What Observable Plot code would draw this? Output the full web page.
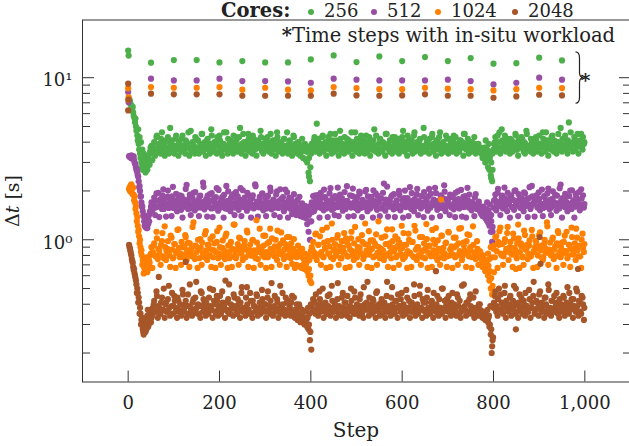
<!DOCTYPE html>
<html><head><meta charset="utf-8">
<script src="https://cdn.jsdelivr.net/npm/d3@7"></script>
<script src="https://cdn.jsdelivr.net/npm/@observablehq/plot@0.6"></script>
<style>
html,body{margin:0;padding:0;background:#fff;}
#wrap{position:relative;width:629px;height:446px;font-family:"DejaVu Serif",serif;color:#222;overflow:hidden;}
#legend{position:absolute;left:0;top:1px;width:629px;height:20px;font-size:18px;white-space:nowrap;line-height:20px;z-index:2;}
#legend span{position:absolute;top:0;}
#legend b{position:absolute;top:0;font-size:19.5px;}
#legend .dot{width:6px;height:6px;border-radius:50%;top:7.5px;}
</style></head><body><div id="wrap"><div id="legend"></div></div>
<script>
// ---- data ----
const coreLabels = ["256", "512", "1024", "2048"];
const coreColors = ["#4daf4a", "#984ea3", "#ff7f00", "#a65628"];
const xTicks = [0, 200, 400, 600, 800, 1000];
const yMajorTicks = [1, 10];
const yMajorLabels = ["10\u2070", "10\u00b9"];
const yMinorTicks = [0.2, 0.3, 0.4, 0.5, 0.6, 0.7, 0.8, 0.9, 2, 3, 4, 5, 6, 7, 8, 9];

// step indices of the two interleaved sample sets (every 3rd step)
const stepsA = d3.range(2, 1000, 3);
const stepsB = d3.range(3, 1000, 3);

const dt256A = [
7.4,6.9,6.5,6.1,5.6,5.0,4.4,3.9,3.4,3.0,2.7,3.1,2.6,2.9,3.2,2.9,3.4,
3.1,3.6,3.3,4.3,3.5,3.9,3.4,4.6,3.6,3.3,4.1,3.7,3.4,4.9,3.5,3.8,3.4,4.2,3.6,3.3,
3.9,3.5,4.4,3.6,3.4,4.0,3.7,3.3,4.7,3.5,3.8,3.4,4.2,3.6,3.4,3.9,4.5,3.5,3.7,3.3,
4.1,3.6,3.4,4.8,3.7,3.5,4.0,3.4,3.8,4.4,3.5,3.3,3.9,3.6,4.6,3.4,3.7,4.1,3.5,3.4,
3.8,4.3,3.5,3.6,4.9,3.4,3.7,4.0,3.3,3.6,4.5,3.5,3.8,3.4,4.2,3.6,3.3,4.0,3.7,4.7,
3.5,3.4,3.9,3.6,4.3,3.5,3.8,3.4,4.1,3.7,3.3,4.6,3.5,3.9,3.6,3.4,4.2,3.5,3.8,3.4,
4.0,3.6,3.3,4.4,3.5,3.7,3.4,3.9,3.3,3.5,3.2,3.6,3.1,3.0,2.6,2.3,3.4,3.6,4.1,3.5,
5.2,3.6,3.4,3.9,4.3,3.5,3.7,3.3,4.0,3.6,4.5,3.4,3.8,3.5,4.1,3.6,3.3,4.7,3.5,3.9,
3.4,3.7,4.2,3.5,3.6,4.0,3.3,3.8,4.6,3.5,3.7,3.4,4.1,3.6,3.9,3.4,4.4,3.5,3.7,3.3,
4.0,3.6,4.8,3.5,3.8,3.4,4.2,3.6,3.5,3.9,3.3,4.5,3.7,3.5,4.1,3.4,3.6,4.3,3.5,3.8,
3.4,4.0,3.6,4.7,3.5,3.7,3.3,4.2,3.6,3.9,3.4,4.4,3.5,3.8,3.6,4.1,3.4,3.7,4.9,3.5,
3.6,4.0,3.4,3.8,4.3,3.5,3.7,3.3,4.1,3.6,4.6,3.4,3.9,3.5,3.7,4.2,3.4,3.6,4.0,3.5,
4.4,3.6,3.4,3.9,3.5,4.1,3.7,3.3,4.5,3.6,3.8,3.4,4.0,3.5,3.7,4.3,3.4,3.6,3.9,3.5,
3.4,3.2,3.3,3.0,3.1,2.8,2.7,2.5,2.3,3.6,4.0,3.5,4.4,3.7,3.4,4.8,3.6,3.9,3.5,4.2,
3.6,3.4,4.1,3.5,3.8,4.5,3.6,3.3,3.9,3.7,4.2,3.5,3.4,4.7,3.6,3.8,3.5,4.0,3.4,3.7,
4.3,3.5,3.6,3.9,3.4,4.6,3.7,3.5,4.1,3.3,3.8,3.6,4.4,3.5,3.7,3.4,4.0,3.6,4.9,3.5,
3.8,4.2,3.6,3.4,5.3,3.7,3.9,3.5,4.3,3.6,4.0,3.4,3.8,4.5,3.6,3.9];
const dt256B = [
7.0,6.8,6.3,5.8,5.3,4.7,4.1,3.6,3.2,2.8,3.2,2.9,3.3,2.7,3.0,3.5,3.8,
3.7,4.0,3.5,4.4,3.8,3.6,4.2,3.9,3.5,4.0,3.7,4.3,3.6,3.9,4.1,3.5,3.8,4.4,3.7,4.0,
3.6,4.2,3.8,3.5,4.1,3.9,4.6,3.7,3.5,4.0,3.8,4.3,3.6,4.1,3.7,3.9,4.5,3.6,4.0,3.8,
4.2,3.7,3.9,4.4,3.6,4.0,3.8,4.3,3.5,4.1,3.7,3.9,4.6,3.8,3.6,4.2,3.9,3.7,4.0,4.4,
3.6,4.1,3.8,4.3,3.7,3.9,4.5,3.6,4.0,3.8,4.2,3.7,3.9,4.4,3.6,4.0,3.8,4.1,3.7,4.3,
3.9,3.6,4.2,3.8,4.0,3.7,4.5,3.9,3.6,4.1,3.8,4.3,3.7,4.0,3.9,3.6,4.2,3.8,4.6,3.7,
4.1,3.8,3.6,4.3,3.9,3.7,4.0,3.8,3.6,4.2,3.7,3.9,3.5,3.6,3.2,2.8,3.9,3.8,4.3,4.0,
3.7,4.2,3.9,3.6,4.4,3.8,4.0,3.7,4.3,3.9,3.6,4.1,3.8,4.5,3.7,4.0,3.9,4.2,3.6,3.8,
4.3,3.7,3.9,4.1,3.8,4.6,3.6,4.0,3.8,4.2,3.7,3.9,4.4,3.6,4.1,3.8,4.0,3.7,4.3,3.9,
3.6,4.1,3.8,4.4,3.7,3.9,4.2,3.6,4.0,3.8,4.5,3.7,3.9,4.1,3.6,4.3,3.8,4.0,3.7,4.2,
3.9,3.7,4.3,3.8,4.0,3.6,4.4,3.9,3.7,4.1,3.8,4.6,3.6,4.0,3.9,4.2,3.7,3.8,4.3,3.6,
4.0,3.8,4.2,3.7,4.5,3.9,3.6,4.1,3.8,4.3,3.7,3.9,4.0,3.6,4.4,3.8,3.7,4.2,3.9,4.1,
3.7,4.3,3.9,3.6,4.1,3.8,4.0,4.5,3.7,3.9,4.2,3.6,3.8,4.0,3.7,3.9,3.6,3.8,3.5,3.7,
3.5,3.6,3.4,3.5,3.3,3.4,3.2,3.0,2.7,3.9,4.3,3.8,4.0,4.6,3.7,4.1,3.9,4.4,3.8,4.0,
3.8,4.2,3.7,4.0,3.9,4.4,3.6,4.1,3.8,4.3,3.7,4.0,3.9,4.5,3.7,3.8,4.2,3.6,4.0,3.9,
4.1,3.8,4.4,3.7,3.9,4.2,3.8,4.6,3.7,4.0,3.9,4.3,3.6,4.1,3.8,4.0,4.5,3.7,3.9,4.2,
3.8,4.4,3.9,4.1,3.7,4.6,3.9,4.0,4.2,3.8,4.5,3.9,4.1,3.7,4.3,4.0];

const dt512A = [
3.28,3.22,3.30,3.20,3.0,2.8,2.6,2.3,2.0,1.7,1.5,1.3,1.2,1.35,1.25,1.45,1.6,
1.52,1.71,1.42,1.93,1.60,1.38,1.78,1.55,2.05,1.62,1.39,1.84,1.57,1.68,1.40,2.12,1.59,1.75,1.50,1.66,
1.88,1.53,1.37,1.72,1.61,2.18,1.55,1.80,1.42,1.64,1.95,1.52,1.70,1.58,1.40,1.87,1.63,2.25,1.54,1.74,
1.39,1.67,1.91,1.56,1.38,1.79,1.62,2.08,1.51,1.69,1.58,1.83,1.37,1.65,2.15,1.55,1.73,1.50,1.86,1.60,
1.42,1.97,1.64,1.53,1.76,1.40,2.02,1.59,1.70,1.51,1.89,1.63,1.37,1.81,1.56,2.20,1.66,1.39,1.74,1.58,
1.92,1.52,1.68,1.40,1.85,1.61,2.10,1.54,1.72,1.42,1.65,1.99,1.57,1.38,1.78,1.60,1.50,2.04,1.63,1.37,
1.82,1.55,1.44,1.69,1.50,1.42,1.76,1.45,1.40,1.58,1.38,1.43,1.36,1.25,1.12,1.00,1.30,1.62,1.50,1.88,
1.58,1.74,1.37,1.95,1.61,1.52,1.83,1.56,1.38,1.70,2.08,1.53,1.66,1.42,1.79,1.59,1.40,1.90,1.63,1.51,
1.73,1.55,2.14,1.39,1.67,1.58,1.86,1.40,1.62,1.77,1.52,1.98,1.57,1.38,1.71,1.60,2.03,1.50,1.68,1.56,
1.84,1.37,1.64,1.93,1.53,1.72,1.40,1.80,1.58,2.22,1.51,1.66,1.39,1.75,1.61,1.88,1.54,1.38,1.70,1.57,
2.00,1.52,1.63,1.37,1.81,1.59,1.69,1.40,2.11,1.55,1.74,1.50,1.62,1.90,1.42,1.67,1.56,1.85,1.38,1.61,
1.76,1.51,2.06,1.58,1.37,1.72,1.64,1.94,1.53,1.68,1.40,1.82,1.57,2.17,1.50,1.65,1.79,1.42,1.60,1.87,
1.54,1.38,1.73,1.99,1.56,1.66,1.39,1.84,1.61,1.37,2.09,1.58,1.71,1.52,1.64,1.40,1.91,1.55,1.69,1.50,
1.44,1.40,1.47,1.36,1.32,1.28,1.22,1.12,0.97,1.58,1.76,1.52,1.95,1.61,1.42,1.83,1.56,2.10,1.66,1.50,
1.72,1.37,1.88,1.59,1.53,2.02,1.64,1.40,1.78,1.57,1.69,1.50,1.93,1.62,1.38,1.81,1.55,2.15,1.67,1.39,
1.75,1.58,1.96,1.52,1.65,1.40,1.86,1.60,1.71,2.07,1.54,1.42,1.79,1.63,1.90,1.51,1.68,1.56,2.19,1.37,
1.73,1.59,1.84,1.50,1.66,2.01,1.55,1.70,1.37,1.92,1.61,1.77,1.52,2.05,1.64,1.58];
const dt512B = [
3.25,3.3,3.18,3.27,2.95,2.7,2.5,2.1,1.85,1.6,1.4,1.22,1.3,1.18,1.4,1.5,1.7,
1.65,1.82,1.58,1.74,1.95,1.62,1.70,1.88,1.55,1.79,1.67,2.01,1.60,1.76,1.85,1.57,1.72,1.92,1.63,1.80,
1.69,1.86,1.59,1.77,2.06,1.64,1.73,1.90,1.56,1.81,1.68,1.97,1.61,1.75,1.84,1.58,1.71,2.12,1.66,1.78,
1.87,1.60,1.74,1.94,1.57,1.70,1.83,1.65,2.03,1.59,1.78,1.68,1.89,1.56,1.73,1.99,1.62,1.80,1.67,1.91,
1.58,1.76,1.85,1.63,2.08,1.71,1.60,1.82,1.69,1.95,1.57,1.75,1.66,1.88,1.61,2.14,1.72,1.59,1.84,1.68,
1.93,1.62,1.79,1.56,1.87,1.70,2.00,1.64,1.77,1.58,1.90,1.67,1.73,2.05,1.60,1.83,1.69,1.57,1.96,1.74,
1.66,1.80,1.58,1.91,1.63,1.72,1.55,1.84,1.60,1.68,1.52,1.62,1.48,1.55,1.42,1.30,1.70,1.86,1.65,1.78,
1.61,1.89,1.70,1.57,1.82,2.04,1.66,1.75,1.59,1.93,1.68,1.79,1.56,1.86,1.64,2.10,1.72,1.60,1.81,1.69,
1.97,1.58,1.74,1.65,1.88,1.61,2.07,1.71,1.57,1.83,1.67,1.92,1.63,1.76,1.59,1.99,1.70,1.85,1.62,1.78,
1.64,2.02,1.73,1.58,1.87,1.69,1.80,1.56,1.95,1.66,1.77,2.13,1.60,1.72,1.84,1.59,1.91,1.68,1.75,1.62,
1.89,1.57,1.76,1.66,2.01,1.63,1.81,1.70,1.58,1.94,1.67,1.78,1.61,2.06,1.73,1.60,1.86,1.69,1.97,1.64,
1.71,1.85,1.59,1.92,1.68,1.77,2.09,1.62,1.74,1.57,1.88,1.65,1.80,1.98,1.60,1.73,1.66,1.90,1.58,1.83,
1.69,1.95,1.61,1.78,1.64,2.03,1.72,1.59,1.86,1.67,1.75,1.90,1.62,1.70,1.57,1.82,1.65,1.58,1.72,1.60,
1.55,1.60,1.50,1.52,1.45,1.47,1.38,1.30,1.12,1.74,1.90,1.66,2.06,1.72,1.61,1.87,1.69,1.80,1.63,1.95,
1.67,1.84,1.59,1.76,2.00,1.64,1.73,1.91,1.58,1.81,1.70,1.96,1.62,1.78,1.66,2.11,1.60,1.85,1.69,1.75,
1.88,1.61,1.79,1.68,2.04,1.57,1.83,1.72,1.93,1.63,1.76,1.59,1.99,1.70,1.65,1.87,1.62,2.08,1.74,1.81,
1.64,1.92,1.71,1.58,1.86,1.67,2.02,1.75,1.60,1.83,1.69,1.97,1.63,1.79,1.88,1.66];

const dt1024A = [
2.05,2.15,1.95,2.10,1.85,1.62,1.38,1.15,1.0,.86,.75,.68,.64,.78,.66,.72,.82,
.67,.92,.80,1.12,.76,.86,.70,.98,.79,1.21,.75,.88,.82,.68,1.03,.77,.94,.67,.85,1.16,
.78,.70,.90,.81,1.07,.75,.96,.68,.84,.79,1.28,.76,.91,.67,.87,1.01,.70,.82,.78,1.13,
.75,.93,.80,.68,1.05,.86,.67,.97,.77,1.19,.70,.89,.81,.76,1.09,.67,.84,.95,.68,.79,
1.24,.77,.88,.70,1.02,.83,.75,.92,.78,1.14,.68,.86,.80,.99,.67,.82,1.32,.76,.90,.70,
.85,1.06,.78,.67,.95,.81,1.17,.68,.87,.79,1.00,.75,.91,.70,1.11,.83,.76,.94,.68,.80,
1.04,.77,.71,.88,.67,.70,.84,.69,.68,.67,.70,.66,.70,.64,.60,.56,.54,.86,.79,1.08,
.75,.93,.81,.70,1.15,.78,.89,.67,.98,.82,.68,1.26,.76,.87,.80,1.03,.70,.91,.77,.84,
1.10,.67,.96,.79,.68,1.02,.85,.75,1.20,.78,.90,.70,.83,1.07,.76,.94,.81,.68,1.13,.86,
.67,.99,.79,.92,.70,1.30,.77,.88,.82,.75,1.05,.80,.68,.95,.84,1.16,.67,.89,.78,1.01,
.70,.87,1.22,.76,.93,.81,.67,1.09,.83,.68,.97,.78,1.14,.75,.90,.80,.70,1.04,.86,.77,
1.25,.67,.91,.82,.68,1.00,.79,1.18,.75,.88,.70,1.06,.84,.77,.95,.68,1.12,.80,.87,.67,
1.03,.78,.92,.70,1.17,.81,.75,.96,.86,.68,1.08,.79,.90,.67,1.21,.83,.76,.98,.70,.85,
.71,.68,.70,.64,.66,.60,.56,.50,.46,.88,.78,1.05,.67,.93,1.19,.80,.70,.97,.84,1.10,
.75,.90,.82,.68,1.02,.86,.77,1.24,.67,.95,.79,.70,1.07,.88,.76,.92,.81,1.15,.67,.84,
.98,.68,.89,1.11,.78,.75,.94,.83,1.28,.70,.87,.80,1.01,.76,.91,.67,1.13,.82,.78,.96,
.70,1.06,.85,.77,.93,.68,1.19,.81,.88,.75,1.03,.79,.92,.67,1.09,.84];
const dt1024B = [
2.1,1.98,2.08,1.9,1.7,1.45,1.22,1.05,0.9,0.8,0.7,0.66,0.74,0.63,0.7,0.8,0.9,
.84,.95,.79,1.02,.88,.81,.93,1.10,.77,.90,.85,.98,.80,1.06,.87,.78,.94,.83,1.15,.89,
.82,.97,.78,.91,1.04,.86,.80,.95,.88,1.20,.79,.92,.84,1.00,.77,.89,.96,.81,1.08,.86,
.93,.80,1.01,.87,.78,.95,.84,1.13,.82,.90,.79,.99,.86,1.05,.81,.92,.77,.97,.88,1.24,
.85,.79,.94,1.03,.83,.90,.78,.98,.87,1.11,.81,.93,.80,1.00,.86,.77,.96,.84,1.17,.89,
.80,.92,1.06,.84,.78,.97,.88,1.02,.82,.91,.79,1.14,.85,.94,.81,.99,.87,.78,1.04,.90,
.86,.95,.80,1.01,.83,.78,.92,.85,.79,.88,.76,.82,.72,.74,.66,.60,.90,.97,.83,1.09,
.81,.93,1.05,.84,.79,.96,.88,1.19,.82,.91,.78,1.00,.86,.94,.80,1.07,.85,.77,.98,.89,
.83,1.02,.79,.92,.87,1.12,.80,.95,.84,.78,1.01,.89,.82,.97,.79,1.26,.86,.93,.81,.99,
.88,.78,.95,1.08,.83,.90,.80,1.03,.86,.79,.94,1.16,.82,.91,.77,.98,.85,1.05,.80,.92,
.96,.81,.89,1.10,.78,.93,.85,1.00,.82,.97,.79,1.22,.87,.90,.80,1.04,.84,.78,.95,.88,
1.01,.83,.92,.79,1.15,.86,.94,.80,.99,.85,.78,1.06,.89,.82,.96,.79,1.11,.87,.91,.81,
.90,1.03,.80,.95,.85,1.18,.79,.92,.84,.98,.81,1.07,.86,.78,.93,.83,.80,.88,.78,.84,
.76,.80,.73,.75,.70,.69,.64,.58,.52,.92,1.04,.85,.97,1.13,.82,.94,.79,1.01,.88,1.20,
.86,.97,.81,1.09,.89,.80,.95,1.02,.84,.91,.78,1.14,.87,.93,.82,.99,.79,1.05,.85,.90,
.94,.80,1.07,.86,.92,.78,1.00,.88,1.21,.83,.96,.81,1.03,.87,.79,.95,1.10,.84,.90,.82,
.97,.85,1.12,.80,.93,.88,1.04,.82,.95,1.17,.86,.91,.79,1.00,.89,.94];

const dt2048A = [
.93,.85,.76,.68,.62,.56,.50,.44,.38,.32,.28,.30,.27,.33,.29,.35,.31,
.34,.40,.36,.48,.33,.38,.35,.44,.37,.33,.41,.36,.52,.34,.39,.35,.45,.38,.33,.42,
.36,.34,.49,.37,.40,.33,.46,.35,.38,.34,.43,.37,.55,.35,.39,.33,.47,.36,.41,.34,
.38,.35,.50,.37,.33,.42,.36,.45,.34,.39,.35,.48,.37,.33,.41,.36,.53,.35,.38,.34,
.44,.37,.35,.40,.33,.47,.36,.38,.34,.51,.37,.35,.42,.33,.39,.36,.46,.34,.38,.35,
.49,.36,.40,.33,.44,.37,.35,.54,.34,.39,.36,.43,.33,.38,.35,.47,.37,.34,.41,.36,
.39,.34,.45,.35,.33,.37,.32,.40,.31,.34,.32,.30,.33,.29,.28,.24,.21,.36,.42,.35,
.37,.34,.48,.36,.40,.33,.38,.35,.45,.37,.34,.52,.36,.39,.33,.43,.35,.38,.34,.47,
.36,.41,.34,.38,.33,.50,.37,.35,.44,.36,.39,.34,.46,.35,.33,.40,.37,.55,.34,.38,
.35,.43,.36,.33,.48,.37,.34,.41,.35,.39,.33,.45,.36,.38,.34,.51,.37,.35,.42,.33,
.39,.36,.47,.34,.38,.35,.44,.37,.33,.40,.36,.53,.34,.38,.35,.46,.37,.33,.41,.36,
.34,.49,.37,.35,.42,.33,.39,.36,.45,.34,.38,.35,.50,.37,.33,.43,.36,.40,.34,.47,
.36,.38,.34,.44,.35,.33,.52,.37,.39,.34,.41,.36,.46,.35,.38,.33,.48,.37,.34,.40,
.35,.33,.36,.32,.34,.31,.29,.26,.22,.38,.45,.36,.34,.50,.37,.41,.35,.47,.33,.39,
.36,.44,.34,.38,.52,.35,.40,.33,.46,.37,.35,.42,.34,.39,.36,.49,.33,.38,.45,.35,
.37,.41,.34,.48,.36,.39,.33,.44,.35,.53,.37,.34,.42,.36,.38,.47,.35,.33,.40,.36,
.45,.34,.38,.51,.35,.37,.43,.33,.39,.36,.48,.34,.41,.35,.44,.32];
const dt2048B = [
.9,.82,.74,.65,.6,.53,.47,.41,.35,.3,.27,.32,.28,.34,.3,.37,.33,
.38,.42,.36,.45,.39,.35,.41,.37,.50,.40,.36,.43,.38,.35,.47,.39,.42,.36,.44,.37,
.40,.36,.46,.38,.42,.35,.39,.53,.37,.41,.36,.44,.38,.40,.35,.48,.39,.43,.37,.41,
.36,.44,.39,.37,.49,.40,.35,.42,.38,.45,.36,.41,.39,.56,.37,.43,.35,.40,.38,.46,
.39,.35,.43,.37,.41,.51,.38,.36,.44,.40,.37,.47,.35,.42,.39,.38,.45,.36,.41,.38,
.43,.37,.40,.36,.48,.39,.42,.35,.38,.45,.37,.41,.36,.52,.39,.40,.37,.44,.35,.42,
.38,.41,.36,.44,.37,.40,.35,.39,.34,.37,.33,.36,.32,.33,.30,.27,.39,.43,.37,.46,
.40,.36,.43,.38,.50,.37,.41,.35,.39,.46,.38,.42,.36,.40,.37,.54,.39,.35,.44,.38,
.41,.37,.45,.36,.39,.42,.38,.48,.35,.40,.37,.43,.39,.36,.51,.38,.41,.37,.44,.40,
.36,.42,.39,.47,.37,.40,.35,.43,.38,.41,.36,.55,.39,.37,.44,.40,.36,.42,.38,.46,
.39,.43,.37,.40,.35,.49,.38,.42,.36,.41,.39,.45,.37,.40,.36,.52,.38,.43,.37,.41,
.44,.38,.36,.41,.39,.47,.37,.40,.35,.43,.38,.50,.36,.42,.39,.37,.45,.38,.41,.36,
.40,.37,.46,.39,.42,.36,.38,.53,.37,.41,.35,.43,.39,.37,.44,.36,.38,.35,.40,.37,
.36,.35,.34,.35,.32,.33,.30,.28,.24,.41,.48,.39,.43,.37,.46,.40,.38,.52,.42,.37,
.40,.45,.37,.42,.39,.50,.36,.41,.38,.44,.37,.40,.47,.39,.36,.43,.38,.41,.55,.37,
.42,.38,.46,.39,.41,.36,.44,.40,.37,.49,.38,.42,.36,.45,.39,.41,.37,.43,.40,.38,
.44,.39,.41,.36,.47,.40,.38,.43,.37,.50,.39,.42,.36,.45,.40,.38];

// additional samples (start-up transient, dips and outliers)
const extraStep256 = [1,4,10,16,22,25,28,31,34,37,40,43,46,49,390,393,396,399,780,783,786,789,792,795,798];
const extraDt256 = [13.7,7.2,6.6,5.6,4.8,4.3,4.0,3.6,3.4,3.0,2.75,3.3,3.1,3.7,3.8,3.5,2.45,3.7,3.7,4.1,3.6,3.9,3.5,2.4,3.4];
const extraStep512 = [1,4,7,13,16,19,22,25,28,31,34,37,40,43,46,393,396,402,783,786,789,792,795,798];
const extraDt512 = [7.06,3.25,3.18,3.1,2.9,2.7,2.45,2.15,1.85,1.6,1.42,1.3,1.18,1.4,1.3,1.55,1.6,1.48,1.55,1.7,1.52,1.65,1.42,1.2];
const extraStep1024 = [0,1,4,7,10,13,16,19,22,25,28,31,34,37,40,43,46,394,397,400,685,785,788,791,794,797,801,849];
const extraDt1024 = [7.3,7.6,2.0,2.2,1.9,1.75,1.55,1.3,1.12,0.95,0.84,0.7,0.62,0.69,0.76,0.66,0.74,0.80,0.75,0.85,1.77,0.73,0.82,0.76,0.9,0.78,0.63,0.66];
const extraStep2048 = [0,1,4,7,10,13,16,19,22,25,28,31,34,37,40,43,46,67,126,394,397,400,674,787,790,793,796,799,849,901,903,985];
const extraDt2048 = [6.28,7.32,0.88,0.80,0.72,0.66,0.58,0.47,0.41,0.35,0.30,0.33,0.26,0.31,0.28,0.37,0.32,0.59,0.73,0.38,0.35,0.40,0.64,0.37,0.34,0.39,0.20,0.25,0.28,1.04,0.71,0.66];

// time steps with in-situ workload
const insituSteps = [0,50,100,150,200,250,300,350,400,450,500,550,600,650,700,750,800,850,900,950];
const insitu256 = [14.7,12.38,12.84,12.84,12.43,12.66,12.43,12.43,12.97,13.73,12.48,13.53,12.66,13.40,12.66,13.21,12.2,12.3,13.29,12.78];
const insitu512 = [8.15,9.86,9.62,9.62,9.86,9.53,9.53,9.49,9.31,9.86,9.72,9.62,9.62,9.62,9.72,9.53,9.09,9.31,10.0,9.72];
const insitu1024 = [8.6,8.75,8.67,8.67,8.75,8.43,8.67,8.43,8.35,8.75,8.63,8.50,8.50,8.67,8.55,8.50,8.35,8.50,8.67,8.63];
const insitu2048 = [9.18,7.97,7.89,7.89,7.89,7.74,7.74,7.74,7.74,7.97,7.77,7.74,7.77,7.89,7.74,7.74,7.52,7.66,7.85,7.77];

// ---- table ----
const seriesA = [dt256A, dt512A, dt1024A, dt2048A];
const seriesB = [dt256B, dt512B, dt1024B, dt2048B];
const extraSteps = [extraStep256, extraStep512, extraStep1024, extraStep2048];
const extraDts = [extraDt256, extraDt512, extraDt1024, extraDt2048];
const insitu = [insitu256, insitu512, insitu1024, insitu2048];
const points = [];
coreLabels.forEach((c, k) => {
  seriesA[k].forEach((v, i) => points.push({step: stepsA[i], dt: v, cores: c}));
  seriesB[k].forEach((v, i) => points.push({step: stepsB[i], dt: v, cores: c}));
  extraSteps[k].forEach((s, i) => points.push({step: s, dt: extraDts[k][i], cores: c}));
  insituSteps.forEach((s, i) => points.push({step: s, dt: insitu[k][i], cores: c}));
});

// ---- legend (HTML, above the plot) ----
const legend = d3.select("#legend");
const legendTextLeft = [324, 387, 451, 528];
legend.append("b").style("left", "221px").text("Cores:");
coreLabels.forEach((c, k) => {
  legend.append("span").attr("class", "dot").style("background", coreColors[k])
    .style("left", (legendTextLeft[k] - 16) + "px");
  legend.append("span").style("left", legendTextLeft[k] + "px").text(c);
});

// ---- plot ----
const axisColor = "#333";
const plot = Plot.plot({
  width: 629, height: 446,
  marginLeft: 82, marginRight: -1, marginTop: 19.5, marginBottom: 64.5,
  style: {fontFamily: '"DejaVu Serif", serif', fontSize: "18px", color: "#222", background: "transparent", overflow: "visible"},
  x: {domain: [-100, 1100], axis: null},
  y: {type: "log", domain: [0.1325, 22.7], axis: null},
  color: {domain: coreLabels, range: coreColors},
  marks: [
    Plot.dot(points, {x: "step", y: "dt", fill: "cores", r: 3.1}),
    Plot.frame({stroke: axisColor}),
    // inward ticks
    Plot.axisY({anchor: "left", ticks: yMajorTicks, tickSize: 12, insetLeft: 12, fill: "none", stroke: axisColor, label: null}),
    Plot.axisY({anchor: "left", ticks: yMinorTicks, tickSize: 8, insetLeft: 8, fill: "none", stroke: axisColor, label: null}),
    Plot.axisY({anchor: "right", ticks: yMajorTicks, tickSize: 12, insetRight: 12, fill: "none", stroke: axisColor, label: null}),
    Plot.axisY({anchor: "right", ticks: yMinorTicks, tickSize: 8, insetRight: 8, fill: "none", stroke: axisColor, label: null}),
    Plot.axisX({anchor: "bottom", ticks: xTicks, tickSize: 11, insetBottom: 11, fill: "none", stroke: axisColor, label: null}),
    // tick labels
    Plot.axisY({anchor: "left", ticks: yMajorTicks, tickSize: 0, tickPadding: 10, dy: 3,
      tickFormat: d => yMajorLabels[yMajorTicks.indexOf(d)], label: null}),
    Plot.axisX({anchor: "bottom", ticks: xTicks, tickSize: 0, tickPadding: 14, tickFormat: d3.format(","), label: null})
  ]
});

const svg = d3.select(plot);
const sx = plot.scale("x"), sy = plot.scale("y");
const font = '"DejaVu Serif", serif';

// axis titles
svg.append("text").attr("x", 356).attr("y", 437).attr("text-anchor", "middle")
  .attr("font-family", font).attr("font-size", 20).attr("fill", "#222").text("Step");
const yl = svg.append("text").attr("transform", "translate(19,201) rotate(-90)").attr("text-anchor", "middle")
  .attr("font-family", font).attr("font-size", 19).attr("fill", "#222");
yl.append("tspan").text("\u0394");
yl.append("tspan").attr("font-style", "italic").text("t");
yl.append("tspan").text(" [s]");

// annotation
const ann = svg.append("text").attr("x", 615).attr("y", 42).attr("text-anchor", "end")
  .attr("font-family", font).attr("font-size", 19.5).attr("fill", "#222");
ann.append("tspan").attr("font-weight", "bold").text("*");
ann.append("tspan").text("Time steps with in-situ workload");

// brace next to the in-situ samples
const later = (arr) => arr.filter((v, i) => insituSteps[i] > 0);
const yTop = sy.apply(d3.max(later(insitu256))) - 3;
const yBot = sy.apply(d3.min(later(insitu2048))) + 6;
const x0 = sx.apply(d3.max(insituSteps)) + 14;
const ym = (yTop + yBot) / 2, xm = x0 + 4;
svg.append("path").attr("fill", "none").attr("stroke", "#222").attr("stroke-width", 1.2)
  .attr("d", `M${x0},${yTop} Q${xm},${yTop} ${xm},${yTop + 6} L${xm},${ym - 5} Q${xm},${ym} ${x0 + 8},${ym} Q${xm},${ym} ${xm},${ym + 5} L${xm},${yBot - 6} Q${xm},${yBot} ${x0},${yBot}`);
svg.append("text").attr("x", x0 + 10).attr("y", ym + 9).attr("font-family", font).attr("font-weight", "bold")
  .attr("font-size", 19).attr("fill", "#222").text("*");

plot.style.position = "absolute";
plot.style.left = "0px";
plot.style.top = "0px";
document.getElementById("wrap").prepend(plot);
</script>
</body></html>
